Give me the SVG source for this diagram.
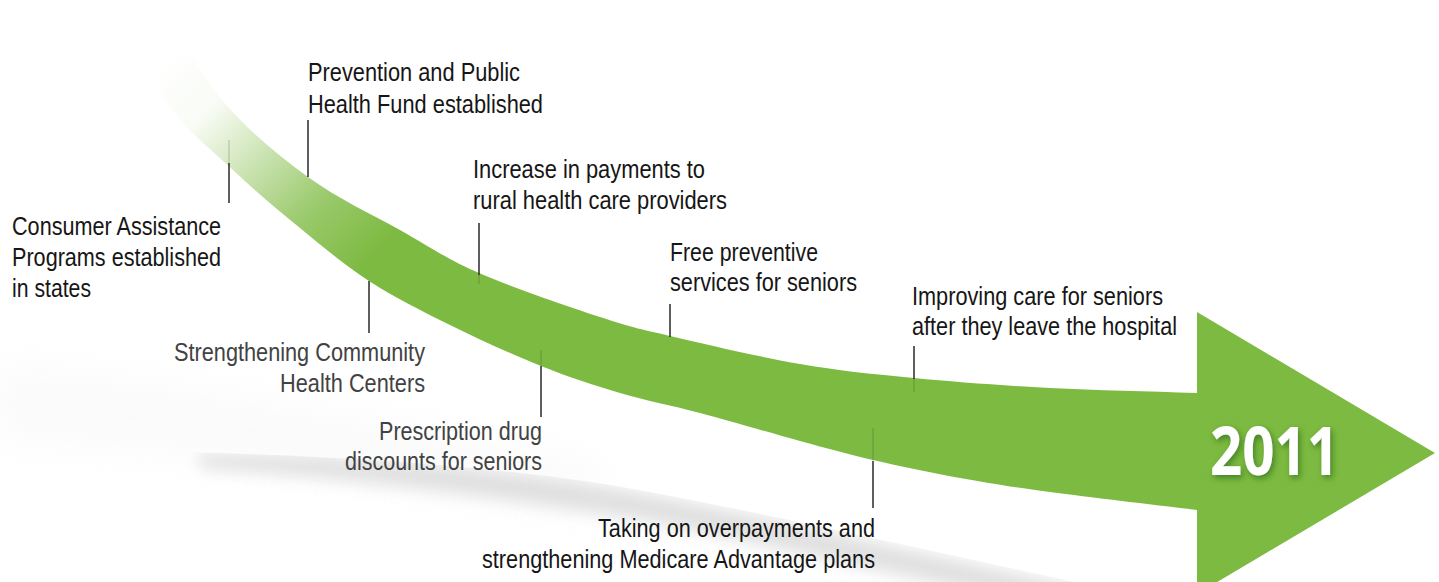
<svg xmlns="http://www.w3.org/2000/svg" width="1439" height="582" viewBox="0 0 1439 582">
<style>
.lbl{font-family:"Liberation Sans",Arial,Helvetica,sans-serif;font-size:25px;fill:#161616}
.lbl.grey{fill:#424242}
.conn{stroke:#2a2a2a;stroke-width:1.5;fill:none}
.faint{stroke:#2a2a2a;stroke-width:1.2;opacity:.22;fill:none}
.year{font-family:"Open Sans","Liberation Sans",Arial,sans-serif;font-weight:700;font-size:66px;fill:#ffffff}
</style>
<defs>
<linearGradient id="tailFade" gradientUnits="userSpaceOnUse" x1="175" y1="50" x2="390" y2="262">
<stop offset="0" stop-color="#7dba41" stop-opacity="0"/>
<stop offset="0.22" stop-color="#7dba41" stop-opacity="0.05"/>
<stop offset="0.45" stop-color="#7dba41" stop-opacity="0.4"/>
<stop offset="0.7" stop-color="#7dba41" stop-opacity="0.78"/>
<stop offset="0.95" stop-color="#7dba41" stop-opacity="1"/>
</linearGradient>
<filter id="blur8" x="-20%" y="-50%" width="140%" height="200%"><feGaussianBlur stdDeviation="8"/></filter>
<filter id="blur20" x="-20%" y="-50%" width="140%" height="200%"><feGaussianBlur stdDeviation="22"/></filter>
<filter id="yearShadow" x="-20%" y="-30%" width="140%" height="160%"><feDropShadow dx="2" dy="3" stdDeviation="3" flood-color="#2f6e1a" flood-opacity="0.75"/></filter>
<clipPath id="shClip"><path d="M0,450 C250,450 480,460 650,492 C820,524 1000,568 1200,608 L1439,640 L1439,700 L0,700 Z"/></clipPath>
</defs>

<g id="shadow">
<path d="M0,370 C200,390 400,430 600,470 L600,510 C400,480 200,445 0,435 Z" fill="#f0f0f0" opacity="0.35" filter="url(#blur20)"/>
<g clip-path="url(#shClip)">
<path d="M200,454 C360,454 520,470 650,494 C800,522 1000,572 1200,612 L1200,636 C1000,600 800,552 650,522 C520,500 360,478 200,468 Z" fill="#d9d9d9" opacity="0.8" filter="url(#blur8)"/>
</g>
</g>

<g id="arrow">
<path d="M160,0 C180.7,33.3 197.3,70.5 222,100 C246.7,129.5 278.3,155.3 308,177 C337.7,198.7 371.5,214 400,230 C428.5,246 445.7,258.5 479,273 C512.3,287.5 568.2,306.5 600,317 C631.8,327.5 636.7,328.2 670,336 C703.3,343.8 759.3,357 800,364 C840.7,371 872.3,374 914,378 C955.7,382 1002.8,385.5 1050,388 C1097.2,390.5 1148,391.3 1197,393 L1197,312 L1435,453 L1197,594 L1197,510 C1148,504 1089.5,497.3 1050,492 C1010.5,486.7 989.5,483.3 960,478 C930.5,472.7 899.7,466.2 873,460 C846.3,453.8 828.8,448.8 800,441 C771.2,433.2 730,421 700,413 C670,405 646.5,400.8 620,393 C593.5,385.2 569.3,377.3 541,366 C512.7,354.7 478.7,339.2 450,325 C421.3,310.8 394,297.2 369,281 C344,264.8 322.7,246.5 300,228 C277.3,209.5 255.5,191.3 233,170 C210.5,148.7 183,128.3 165,100 C147,71.7 138.3,33.3 125,0 Z" fill="url(#tailFade)"/>
<text class="year" x="1210" y="475" textLength="129" lengthAdjust="spacingAndGlyphs" filter="url(#yearShadow)">2011</text>
</g>

<g id="connectors">
<line class="faint" x1="229" y1="140" x2="229" y2="163"/>
<line class="conn" x1="229" y1="163" x2="229" y2="203"/>
<line class="conn" x1="308" y1="120" x2="308" y2="177"/>
<line class="conn" x1="479" y1="223" x2="479" y2="275"/>
<line class="faint" x1="479" y1="275" x2="479" y2="284"/>
<line class="conn" x1="369" y1="281" x2="369" y2="333"/>
<line class="conn" x1="670" y1="304" x2="670" y2="337"/>
<line class="faint" x1="541" y1="350" x2="541" y2="366"/>
<line class="conn" x1="541" y1="366" x2="541" y2="417"/>
<line class="conn" x1="914" y1="346" x2="914" y2="379"/>
<line class="faint" x1="914" y1="379" x2="914" y2="392"/>
<line class="faint" x1="873" y1="428" x2="873" y2="461"/>
<line class="conn" x1="873" y1="461" x2="873" y2="508"/>
</g>

<g id="node-consumer">
<text class="lbl" x="12" y="235" textLength="209" lengthAdjust="spacingAndGlyphs">Consumer Assistance</text>
<text class="lbl" x="12" y="266" textLength="209" lengthAdjust="spacingAndGlyphs">Programs established</text>
<text class="lbl" x="12" y="297" textLength="79" lengthAdjust="spacingAndGlyphs">in states</text>
</g>
<g id="node-prevention">
<text class="lbl" x="308" y="81" textLength="212" lengthAdjust="spacingAndGlyphs">Prevention and Public</text>
<text class="lbl" x="308" y="113" textLength="235" lengthAdjust="spacingAndGlyphs">Health Fund established</text>
</g>
<g id="node-rural">
<text class="lbl" x="473" y="178" textLength="232" lengthAdjust="spacingAndGlyphs">Increase in payments to</text>
<text class="lbl" x="473" y="209" textLength="254" lengthAdjust="spacingAndGlyphs">rural health care providers</text>
</g>
<g id="node-community">
<text class="lbl grey" x="174" y="361" textLength="251" lengthAdjust="spacingAndGlyphs">Strengthening Community</text>
<text class="lbl grey" x="280" y="392" textLength="145" lengthAdjust="spacingAndGlyphs">Health Centers</text>
</g>
<g id="node-preventive">
<text class="lbl" x="670" y="261" textLength="148" lengthAdjust="spacingAndGlyphs">Free preventive</text>
<text class="lbl" x="670" y="291" textLength="187" lengthAdjust="spacingAndGlyphs">services for seniors</text>
</g>
<g id="node-prescription">
<text class="lbl grey" x="379" y="440" textLength="163" lengthAdjust="spacingAndGlyphs">Prescription drug</text>
<text class="lbl grey" x="345" y="470" textLength="197" lengthAdjust="spacingAndGlyphs">discounts for seniors</text>
</g>
<g id="node-hospital">
<text class="lbl" x="912" y="305" textLength="251" lengthAdjust="spacingAndGlyphs">Improving care for seniors</text>
<text class="lbl" x="912" y="335" textLength="265" lengthAdjust="spacingAndGlyphs">after they leave the hospital</text>
</g>
<g id="node-medicare">
<text class="lbl" x="598" y="537" textLength="277" lengthAdjust="spacingAndGlyphs">Taking on overpayments and</text>
<text class="lbl" x="482" y="568" textLength="393" lengthAdjust="spacingAndGlyphs">strengthening Medicare Advantage plans</text>
</g>
</svg>
